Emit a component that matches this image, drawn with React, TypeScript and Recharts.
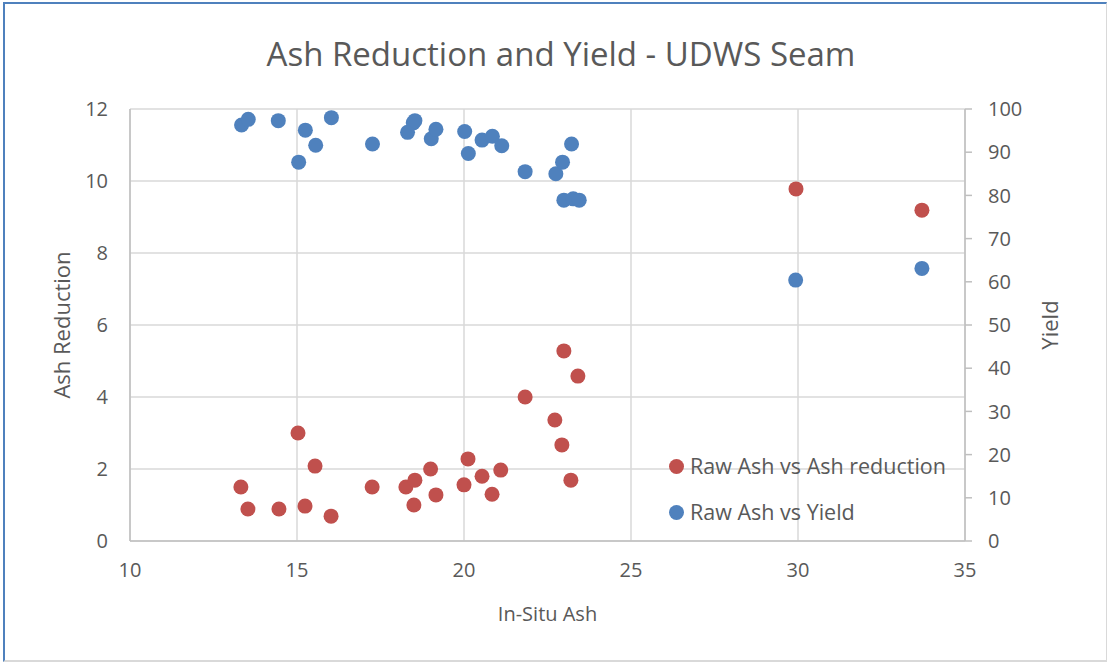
import React from 'react';
import { ScatterChart, Scatter, XAxis, YAxis, CartesianGrid, Label } from 'recharts';

// In-situ ash vs ash reduction (left axis)
const reductionAsh = [
  13.32, 13.53, 14.46, 15.03, 15.24, 15.54, 16.02, 17.25, 18.26, 18.53, 18.5, 19.0, 19.16,
  20.0, 20.12, 20.54, 20.84, 21.1, 21.83, 22.72, 22.93, 22.99, 23.2, 23.41, 29.94, 33.71,
];
const reductionValues = [
  1.5, 0.89, 0.89, 3.0, 0.97, 2.08, 0.69, 1.5, 1.5, 1.69, 1.0, 2.0, 1.28,
  1.56, 2.28, 1.8, 1.3, 1.97, 4.0, 3.36, 2.67, 5.28, 1.69, 4.58, 9.78, 9.19,
];

// In-situ ash vs yield (right axis)
const yieldAsh = [
  13.34, 13.54, 14.44, 15.25, 15.05, 15.56, 16.03, 17.26, 18.31, 18.48, 18.53, 19.02, 19.16,
  20.02, 20.13, 20.54, 20.85, 21.13, 21.83, 22.75, 22.95, 23.22, 22.99, 23.27, 23.45, 29.93, 33.71,
];
const yieldValues = [
  96.3, 97.6, 97.3, 95.1, 87.7, 91.6, 98.0, 91.9, 94.6, 96.8, 97.3, 93.1, 95.3,
  94.8, 89.7, 92.8, 93.7, 91.5, 85.5, 85.0, 87.7, 91.9, 78.9, 79.2, 78.9, 60.4, 63.1,
];

const xTicks = [10, 15, 20, 25, 30, 35];
const leftTicks = [0, 2, 4, 6, 8, 10, 12];
const rightTicks = [0, 10, 20, 30, 40, 50, 60, 70, 80, 90, 100];

const RED = '#c0504d';
const BLUE = '#4f81bd';
const TEXT = '#595959';
const FONT = '"Open Sans", sans-serif';

const reductionData = reductionAsh.map((x, i) => ({ x, y: reductionValues[i] }));
const yieldData = yieldAsh.map((x, i) => ({ x, y: yieldValues[i] }));

const legendItems = [
  { name: 'Raw Ash vs Ash reduction', color: RED },
  { name: 'Raw Ash vs Yield', color: BLUE },
];

const dot = (color: string) => (props: any) => (
  <circle cx={props.cx} cy={props.cy} r={7.5} fill={color} />
);

const tickStyle = { fill: TEXT, fontSize: 20, fontFamily: FONT };
const axisLine = { stroke: '#bfbfbf', strokeWidth: 1.5 };

export default function App() {
  return (
    <div style={{ position: 'absolute', left: 0, top: 0, width: 1110, height: 664, background: '#fff' }}>
      <div
        style={{
          position: 'absolute',
          left: 3,
          top: 2,
          width: 1104,
          height: 660,
          borderTop: `2px solid ${BLUE}`,
          borderLeft: `2px solid ${BLUE}`,
          borderRight: '1px solid #d9d9d9',
          borderBottom: '2px solid #d9d9d9',
          boxSizing: 'border-box',
        }}
      />
      <div
        style={{
          position: 'absolute',
          left: 0,
          width: 1122,
          top: 31,
          textAlign: 'center',
          fontFamily: FONT,
          fontSize: 33,
          color: TEXT,
        }}
      >
        Ash Reduction and Yield - UDWS Seam
      </div>
      <div style={{ position: 'absolute', left: 0, top: 0 }}>
        <ScatterChart width={1110} height={664} margin={{ top: 109, right: 85, bottom: 83, left: 70 }}>
          <CartesianGrid yAxisId="left" stroke="#d9d9d9" strokeWidth={1.5} />
          <XAxis
            type="number"
            dataKey="x"
            domain={[10, 35]}
            ticks={xTicks}
            height={40}
            tickLine={false}
            tickSize={0}
            tickMargin={22}
            axisLine={axisLine}
            tick={tickStyle}
          >
            <Label value="In-Situ Ash" position="bottom" offset={26} style={{ fill: TEXT, fontSize: 20, fontFamily: FONT }} />
          </XAxis>
          <YAxis
            yAxisId="left"
            type="number"
            dataKey="y"
            domain={[0, 12]}
            ticks={leftTicks}
            width={60}
            tickLine={false}
            tickSize={0}
            tickMargin={22}
            axisLine={axisLine}
            tick={tickStyle}
          >
            <Label
              value="Ash Reduction"
              angle={-90}
              position="left"
              offset={8}
              style={{ fill: TEXT, fontSize: 22, fontFamily: FONT, textAnchor: 'middle' }}
            />
          </YAxis>
          <YAxis
            yAxisId="right"
            orientation="right"
            type="number"
            dataKey="y"
            domain={[0, 100]}
            ticks={rightTicks}
            width={60}
            tickSize={7}
            tickMargin={16}
            tickLine={axisLine}
            axisLine={axisLine}
            tick={tickStyle}
          >
            <Label
              value="Yield"
              angle={-90}
              position="right"
              offset={25}
              style={{ fill: TEXT, fontSize: 22, fontFamily: FONT, textAnchor: 'middle' }}
            />
          </YAxis>
          <Scatter
            name="Raw Ash vs Ash reduction"
            data={reductionData}
            yAxisId="left"
            fill={RED}
            shape={dot(RED)}
            isAnimationActive={false}
          />
          <Scatter
            name="Raw Ash vs Yield"
            data={yieldData}
            yAxisId="right"
            fill={BLUE}
            shape={dot(BLUE)}
            isAnimationActive={false}
          />
        </ScatterChart>
      </div>
      <div
        style={{
          position: 'absolute',
          left: 669,
          top: 443,
          fontFamily: FONT,
          fontSize: 21.5,
          color: TEXT,
          lineHeight: '46px',
        }}
      >
        {legendItems.map((item) => (
          <div key={item.name} style={{ display: 'flex', alignItems: 'center' }}>
            <span
              style={{
                width: 15,
                height: 15,
                borderRadius: '50%',
                background: item.color,
                display: 'inline-block',
                marginRight: 6,
              }}
            />
            {item.name}
          </div>
        ))}
      </div>
    </div>
  );
}
